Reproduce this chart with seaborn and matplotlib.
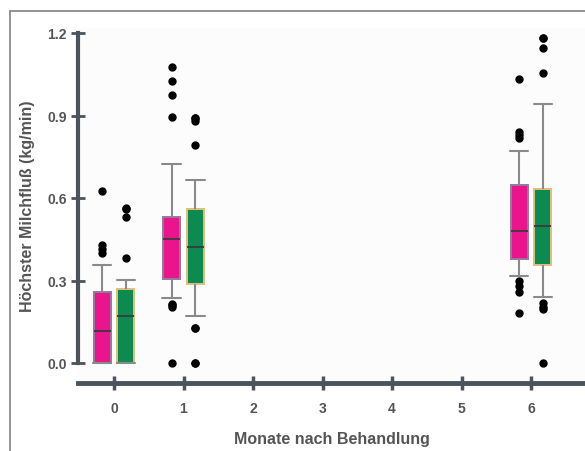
import numpy as np
import pandas as pd
import seaborn as sns
import matplotlib.pyplot as plt
from matplotlib.patches import Rectangle

# months after treatment and the two groups
months = [0, 1, 6]
groups = ["Gruppe A", "Gruppe B"]

# peak milk flow (kg/min), sorted values per month and group
m0_a = [0, 0, 0, 0, 0, 0, 0, 0, 0, 0, 0,
        0.01, 0.02, 0.035, 0.05, 0.06, 0.075, 0.09, 0.1, 0.115, 0.115,
        0.13, 0.15, 0.165, 0.18, 0.2, 0.215, 0.23, 0.245, 0.258, 0.258,
        0.28, 0.3, 0.32, 0.34, 0.358, 0.40, 0.415, 0.43, 0.624]
m0_b = [0, 0, 0, 0, 0, 0, 0, 0, 0, 0, 0,
        0.02, 0.04, 0.06, 0.08, 0.1, 0.12, 0.14, 0.16, 0.172, 0.172,
        0.18, 0.19, 0.2, 0.21, 0.22, 0.235, 0.245, 0.26, 0.27, 0.27,
        0.275, 0.28, 0.29, 0.295, 0.303, 0.382, 0.53, 0.56, 0.565]
m1_a = [0, 0.205, 0.21, 0.215, 0.238, 0.25, 0.265, 0.28, 0.295, 0.305, 0.305,
        0.32, 0.34, 0.36, 0.38, 0.4, 0.415, 0.43, 0.44, 0.452, 0.452,
        0.46, 0.47, 0.48, 0.49, 0.5, 0.51, 0.515, 0.52, 0.53, 0.53,
        0.57, 0.61, 0.65, 0.69, 0.725, 0.893, 0.973, 1.024, 1.075]
m1_b = [0, 0, 0.127, 0.127, 0.17, 0.2, 0.225, 0.25, 0.27, 0.286, 0.286,
        0.3, 0.32, 0.34, 0.36, 0.375, 0.39, 0.4, 0.41, 0.423, 0.423,
        0.44, 0.46, 0.48, 0.5, 0.51, 0.525, 0.54, 0.55, 0.56, 0.56,
        0.58, 0.6, 0.62, 0.64, 0.664, 0.794, 0.88, 0.89, 0.89]
m6_a = [0.182, 0.26, 0.28, 0.3, 0.315, 0.33, 0.345, 0.355, 0.37, 0.378, 0.378,
        0.39, 0.4, 0.415, 0.43, 0.44, 0.455, 0.465, 0.475, 0.481, 0.481,
        0.49, 0.51, 0.53, 0.55, 0.57, 0.59, 0.61, 0.63, 0.648, 0.648,
        0.67, 0.69, 0.72, 0.745, 0.77, 0.82, 0.83, 0.84, 1.033]
m6_b = [0, 0.195, 0.205, 0.218, 0.239, 0.26, 0.28, 0.31, 0.335, 0.357, 0.357,
        0.38, 0.4, 0.42, 0.44, 0.455, 0.47, 0.48, 0.49, 0.497, 0.497,
        0.51, 0.53, 0.55, 0.565, 0.58, 0.6, 0.615, 0.625, 0.634, 0.634,
        0.7, 0.77, 0.84, 0.9, 0.942, 1.055, 1.145, 1.182, 1.182]

x_ticks = [0, 1, 2, 3, 4, 5, 6]
y_ticks = [0.0, 0.3, 0.6, 0.9, 1.2]

series = {(0, groups[0]): m0_a, (0, groups[1]): m0_b,
          (1, groups[0]): m1_a, (1, groups[1]): m1_b,
          (6, groups[0]): m6_a, (6, groups[1]): m6_b}
rows = []
for (m, g), vals in series.items():
    for v in vals:
        rows.append({"monat": m, "gruppe": g, "wert": v})
df = pd.DataFrame(rows)

sns.set_theme(style="white")
plt.rcParams["font.family"] = ["Liberation Sans", "DejaVu Sans"]

W, H = 585, 452
fig = plt.figure(figsize=(W / 100, H / 100), dpi=100)
fig.patches.append(Rectangle((10 / W, -0.1), 2, 1 - 11.5 / H + 0.1,
                             transform=fig.transFigure, fill=False,
                             edgecolor="#8a8a8a", lw=1.3))
ax = fig.add_axes([78 / W, (H - 384) / H, (W - 78) / W, (384 - 29) / H])
ax.set_facecolor("#fcfcfd")

pink, green = "#ea148c", "#0c8a52"
width, gap = 0.68, 0.29
sns.boxplot(data=df, x="monat", y="wert", hue="gruppe", hue_order=groups,
            native_scale=True, width=width, gap=gap, whis=(10, 90),
            palette=[pink, green], linecolor="#8a8a8a", linewidth=1.5,
            fliersize=5, saturation=1, legend=False, ax=ax,
            flierprops=dict(marker="o", markerfacecolor="black",
                            markeredgecolor="black"),
            medianprops=dict(color="#3a3a3a", linewidth=1.3))

for p in ax.patches:
    fc = p.get_facecolor()
    if fc[0] > 0.5:
        p.set_edgecolor("#957a9a")
    else:
        p.set_edgecolor("#e0bf7a")
    p.set_linewidth(1.4)

# widen the whisker caps to the box width
box_w = width / 2 * (1 - gap)
for ln in ax.lines:
    xd, yd = np.asarray(ln.get_xdata(), float), np.asarray(ln.get_ydata(), float)
    if len(xd) == 2 and yd[0] == yd[1]:
        span = abs(xd[1] - xd[0])
        if abs(span - 0.5 * box_w) < 1e-6:
            c = xd.mean()
            ln.set_xdata([c - 0.55 * box_w, c + 0.55 * box_w])

ax.set_xlim((78 - 114) / 69.5, (W - 114) / 69.5)
ax.set_ylim((364 - 384) / 275, (364 - 29) / 275)
ax.set_xticks(x_ticks)
ax.set_xticklabels([str(t) for t in x_ticks])
ax.set_yticks(y_ticks)
ax.set_yticklabels([f"{t:.1f}" for t in y_ticks])

axis_c = "#4b545a"
for s in ["top", "right"]:
    ax.spines[s].set_visible(False)
ax.spines["left"].set_bounds(0, 1.2)
ax.spines["left"].set_color(axis_c)
ax.spines["left"].set_linewidth(3)
ax.spines["bottom"].set_color(axis_c)
ax.spines["bottom"].set_linewidth(3.5)
ax.tick_params(axis="y", left=True, direction="inout", length=10, width=2,
               color=axis_c, labelsize=10, labelcolor="#555555", pad=3)
ax.tick_params(axis="x", bottom=True, direction="inout", length=10.5, width=2.5,
               color=axis_c, labelsize=10, labelcolor="#555555", pad=8)
for lab in ax.get_xticklabels() + ax.get_yticklabels():
    lab.set_fontweight("bold")

ax.set_xlabel("Monate nach Behandlung", fontsize=11.5, fontweight="bold",
              color="#555555", labelpad=11)
ax.set_ylabel("Höchster Milchfluß (kg/min)", fontsize=11.5, fontweight="bold",
              color="#555555", labelpad=9)

fig.savefig("out.png", dpi=100)
